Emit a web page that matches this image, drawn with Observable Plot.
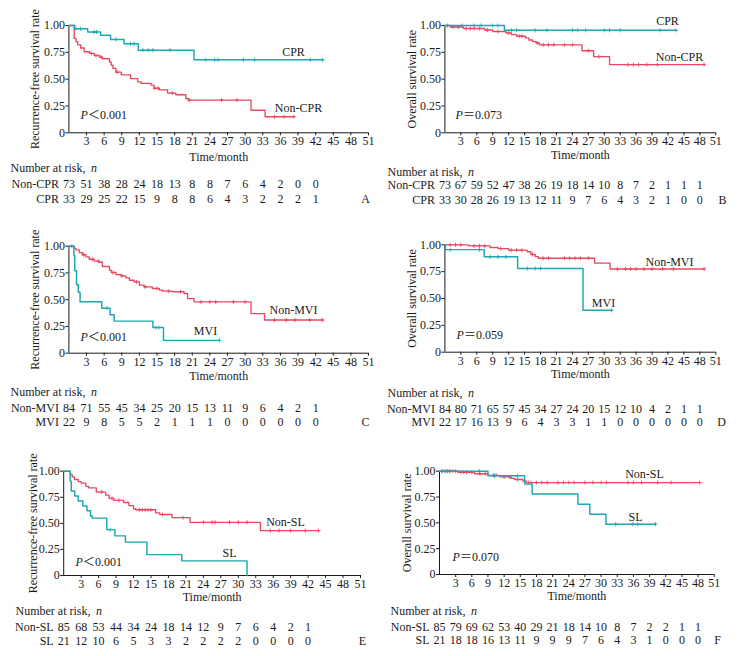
<!DOCTYPE html>
<html>
<head>
<meta charset="utf-8">
<script src="https://cdn.jsdelivr.net/npm/d3@7"></script>
<script src="https://cdn.jsdelivr.net/npm/@observablehq/plot@0.6"></script>
<style>
  html, body { margin: 0; padding: 0; background: #fff; }
  #root { position: relative; width: 745px; height: 656px; overflow: hidden; }
  #root svg { position: absolute; overflow: visible; }
</style>
</head>
<body>
<div id="root"></div>
<script>
// ---------- shared ticks ----------
const xTicks = [3, 6, 9, 12, 15, 18, 21, 24, 27, 30, 33, 36, 39, 42, 45, 48, 51];
const yTicks = [0, 0.25, 0.5, 0.75, 1];
const riskTimes = [0, 3, 6, 9, 12, 15, 18, 21, 24, 27, 30, 33, 36, 39, 42, 45, 48];

// ---------- Panel A: RFS, CPR vs Non-CPR ----------
const aNonT = [0, 0.9, 1.2, 1.5, 2.0, 2.6, 3.5, 4.3, 5.2, 5.7, 6.9, 7.2, 7.5, 8.0, 8.9, 10.5, 11.7, 12.3, 14.0, 14.5, 15.4, 16.8, 18.2, 19.9, 20.3, 31.0, 33.4];
const aNonS = [1, 0.88, 0.85, 0.82, 0.79, 0.755, 0.74, 0.72, 0.705, 0.69, 0.66, 0.63, 0.60, 0.565, 0.54, 0.505, 0.475, 0.46, 0.445, 0.415, 0.40, 0.37, 0.355, 0.32, 0.305, 0.21, 0.15];
const aNonEnd = 38.3;
const aNonCens = [3.8, 4.6, 5.5, 8.2, 14.6, 15.2, 17.6, 20.5, 26.0, 28.6, 35.0, 36.6, 38.3];
const aCprT = [0, 1.0, 3.2, 5.4, 7.1, 9.4, 11.8, 21.3];
const aCprS = [1, 0.97, 0.94, 0.91, 0.87, 0.83, 0.77, 0.68];
const aCprEnd = 43.2;
const aCprCens = [1.2, 2.0, 4.3, 4.7, 8.0, 10.5, 11.1, 12.6, 13.5, 14.3, 17.2, 23.3, 24.8, 25.4, 29.7, 31.6, 41.1, 43.2];
const aRiskNon = [73, 51, 38, 28, 24, 18, 13, 8, 8, 7, 6, 4, 2, 0, 0];
const aRiskCpr = [33, 29, 25, 22, 15, 9, 8, 8, 6, 4, 3, 2, 2, 2, 1];

// ---------- Panel B: OS, CPR vs Non-CPR ----------
const bNonT = [0, 1.0, 3.5, 7.5, 9.0, 11.5, 12.5, 13.5, 15.2, 15.8, 16.5, 17.2, 17.8, 25.8, 28.0, 31.0];
const bNonS = [1, 0.986, 0.972, 0.958, 0.944, 0.93, 0.915, 0.9, 0.885, 0.865, 0.85, 0.835, 0.82, 0.765, 0.71, 0.635];
const bNonEnd = 48.8;
const bNonCens = [0.5, 1.5, 2.5, 4.0, 4.8, 5.5, 6.5, 8.0, 10.0, 12.0, 14.0, 14.5, 17.5, 18.5, 19.5, 20.5, 22.5, 24.0, 27.0, 29.0, 34.5, 35.5, 36.5, 38.0, 40.0, 48.8];
const bCprT = [0, 11.2];
const bCprS = [1, 0.955];
const bCprEnd = 43.5;
const bCprCens = [3.2, 5.5, 6.8, 9.0, 10.0, 12.5, 13.5, 17.0, 19.2, 24.0, 25.0, 26.5, 30.0, 31.0, 33.0, 40.5, 43.5];
const bRiskNon = [73, 67, 59, 52, 47, 38, 26, 19, 18, 14, 10, 8, 7, 2, 1, 1, 1];
const bRiskCpr = [33, 30, 28, 26, 19, 13, 12, 11, 9, 7, 6, 4, 3, 2, 1, 0, 0];

// ---------- Panel C: RFS, MVI vs Non-MVI ----------
const cNonT = [0, 0.9, 1.2, 1.75, 2.3, 2.9, 3.45, 4.3, 5.15, 5.7, 6.9, 7.2, 8.0, 8.9, 9.7, 10.3, 11.1, 12.0, 12.8, 14.2, 15.4, 15.9, 17.7, 19.6, 20.2, 21.3, 31.0, 33.3];
const cNonS = [1, 0.98, 0.965, 0.94, 0.92, 0.90, 0.878, 0.86, 0.85, 0.81, 0.776, 0.754, 0.735, 0.723, 0.704, 0.682, 0.667, 0.636, 0.62, 0.605, 0.589, 0.58, 0.574, 0.558, 0.51, 0.48, 0.37, 0.31];
const cNonEnd = 43.2;
const cNonCens = [2.5, 4.0, 5.0, 7.5, 9.0, 11.5, 13.0, 15.0, 17.0, 19.0, 22.5, 24.0, 25.0, 28.0, 30.0, 35.0, 37.0, 38.5, 41.0, 43.2];
const cMviT = [0, 0.85, 1.0, 1.3, 1.6, 1.9, 5.6, 7.0, 7.7, 14.3, 16.1];
const cMviS = [1, 0.91, 0.77, 0.64, 0.57, 0.48, 0.42, 0.36, 0.30, 0.24, 0.12];
const cMviEnd = 25.6;
const cMviCens = [0.5, 6.5, 14.8, 15.3, 25.6];
const cRiskNon = [84, 71, 55, 45, 34, 25, 20, 15, 13, 11, 9, 6, 4, 2, 1];
const cRiskMvi = [22, 9, 8, 5, 5, 2, 1, 1, 1, 0, 0, 0, 0, 0, 0];

// ---------- Panel D: OS, MVI vs Non-MVI ----------
const dNonT = [0, 4.5, 8.5, 10.0, 12.0, 15.5, 16.2, 17.0, 17.6, 28.2, 31.1];
const dNonS = [1, 0.99, 0.975, 0.965, 0.95, 0.935, 0.91, 0.89, 0.875, 0.83, 0.775];
const dNonEnd = 48.8;
const dNonCens = [1.0, 2.0, 3.0, 5.5, 6.5, 7.5, 10.5, 12.5, 13.5, 14.5, 16.5, 18.5, 19.5, 22.5, 23.5, 24.5, 25.5, 27.0, 32.5, 34.0, 35.0, 36.0, 37.5, 39.0, 41.0, 43.0, 48.8];
const dMviT = [0, 0.1, 7.4, 13.7, 26.0];
const dMviS = [1, 0.955, 0.888, 0.78, 0.39];
const dMviEnd = 31.4;
const dMviCens = [1.0, 6.5, 8.5, 10.0, 11.5, 15.5, 17.0, 18.0, 31.4];
const dRiskNon = [84, 80, 71, 65, 57, 45, 34, 27, 24, 20, 15, 12, 10, 4, 2, 1, 1];
const dRiskMvi = [22, 17, 16, 13, 9, 6, 4, 3, 3, 1, 1, 0, 0, 0, 0, 0, 0];

// ---------- Panel E: RFS, SL vs Non-SL ----------
const eNonT = [0, 1.15, 1.45, 1.85, 2.5, 3.0, 3.8, 4.3, 5.6, 7.2, 7.8, 8.6, 10.3, 11.2, 12.0, 12.4, 15.8, 16.5, 18.6, 21.7, 33.8];
const eNonS = [1, 0.97, 0.945, 0.92, 0.9, 0.885, 0.855, 0.84, 0.80, 0.77, 0.74, 0.72, 0.70, 0.67, 0.64, 0.63, 0.60, 0.585, 0.555, 0.51, 0.43];
const eNonEnd = 43.8;
const eNonCens = [6.5, 8.3, 9.5, 13.0, 13.5, 14.0, 14.5, 15.0, 17.0, 20.5, 24.0, 25.5, 26.0, 28.5, 30.0, 31.5, 35.5, 37.0, 39.0, 41.5, 43.8];
const eSlT = [0, 1.1, 1.3, 1.9, 2.5, 3.3, 4.0, 4.6, 4.9, 7.4, 8.8, 10.6, 14.3, 20.3, 31.5];
const eSlS = [1, 0.905, 0.81, 0.762, 0.714, 0.667, 0.62, 0.57, 0.55, 0.44, 0.38, 0.32, 0.20, 0.14, 0];
const eSlEnd = 31.5;
const eSlCens = [8.0];
const eRiskNon = [85, 68, 53, 44, 34, 24, 18, 14, 12, 9, 7, 6, 4, 2, 1];
const eRiskSl = [21, 12, 10, 6, 5, 3, 3, 2, 2, 2, 2, 0, 0, 0, 0];

// ---------- Panel F: OS, SL vs Non-SL ----------
const fNonT = [0, 3.4, 6.5, 9.0, 11.2, 13.3, 14.0, 15.5, 16.1];
const fNonS = [1, 0.99, 0.975, 0.96, 0.945, 0.93, 0.92, 0.905, 0.89];
const fNonEnd = 48.3;
const fNonCens = [0.5, 1.0, 1.5, 2.0, 2.5, 3.0, 4.0, 4.5, 5.0, 6.0, 7.5, 8.5, 10.0, 10.5, 12.0, 13.0, 14.5, 16.5, 17.0, 18.0, 19.0, 20.0, 22.0, 23.0, 24.0, 25.0, 27.0, 28.5, 30.0, 31.0, 35.0, 36.0, 37.5, 40.5, 43.0, 48.3];
const fSlT = [0, 9.0, 15.8, 17.2, 25.7, 27.9, 30.9];
const fSlS = [1, 0.955, 0.875, 0.78, 0.68, 0.584, 0.487];
const fSlEnd = 40.1;
const fSlCens = [0.5, 1.2, 1.8, 7.4, 10.2, 14.5, 32.7, 35.9, 36.8, 40.1];
const fRiskNon = [85, 79, 69, 62, 53, 40, 29, 21, 18, 14, 10, 8, 7, 2, 2, 1, 1];
const fRiskSl = [21, 18, 18, 16, 13, 11, 9, 9, 9, 7, 6, 4, 3, 1, 0, 0, 0];

// ---------- helpers ----------
const RED = "#ea4862";
const TEAL = "#1ea6b3";
const INK = "#1a1a1a";
const FONT = "'Liberation Serif', 'Times New Roman', 'Noto Sans CJK SC', serif";

function stepData(T, S, end) {
  const d = T.map((t, i) => ({t, s: S[i]}));
  d.push({t: end, s: S[S.length - 1]});
  return d;
}
function censData(T, S, C) {
  return C.map(t => {
    let v = S[0];
    for (let i = 0; i < T.length; i++) if (T[i] <= t) v = S[i];
    return {t, s: v};
  });
}
function riskData(vals) {
  return vals.map((n, i) => ({t: riskTimes[i], n}));
}

function label(txt, anchor, dx, dy, extra = {}) {
  return Plot.text([txt], {frameAnchor: anchor, dx, dy, textAnchor: "middle", lineAnchor: "middle", fontSize: 12, fill: INK, ...extra});
}

function panel(cfg) {
  const {L, W, T, H, x0, x51, top, bottom} = cfg.box;
  const g = cfg.geo;
  const svg = Plot.plot({
    width: W, height: H,
    marginLeft: x0 - L, marginRight: L + W - x51,
    marginTop: top - T, marginBottom: T + H - bottom,
    style: {fontFamily: FONT, fontSize: "12px", background: "transparent", color: INK, overflow: "visible"},
    x: {domain: [0, 51]},
    y: {domain: [0, 1]},
    marks: [
      Plot.axisX({ticks: xTicks, tickSize: 3, tickPadding: 1, label: null, fontSize: 12}),
      Plot.axisY({ticks: yTicks, tickSize: 3, tickPadding: 1, label: null, fontSize: 12,
        tickFormat: d => d === 0 ? "0" : d.toFixed(2)}),
      Plot.ruleY([0], {stroke: INK, strokeWidth: 1}),
      Plot.ruleX([0], {stroke: INK, strokeWidth: 1}),
      // curves
      Plot.line(stepData(cfg.rT, cfg.rS, cfg.rEnd), {x: "t", y: "s", curve: "step-after", stroke: RED, strokeWidth: 1.35}),
      Plot.dot(censData(cfg.rT, cfg.rS, cfg.rC), {x: "t", y: "s", symbol: "plus", r: 1.4, stroke: RED, strokeWidth: 0.9}),
      Plot.line(stepData(cfg.tT, cfg.tS, cfg.tEnd), {x: "t", y: "s", curve: "step-after", stroke: TEAL, strokeWidth: 1.45}),
      Plot.dot(censData(cfg.tT, cfg.tS, cfg.tC), {x: "t", y: "s", symbol: "plus", r: 1.4, stroke: TEAL, strokeWidth: 0.9}),
      // axis titles
      label(cfg.yLabel, "left", g.yLabDx, 0, {rotate: -90}),
      label("Time/month", "bottom", 0, g.xLabDy),
      // group labels
      label(cfg.rName, "top-left", g.rLab[0], g.rLab[1]),
      label(cfg.tName, "top-left", g.tLab[0], g.tLab[1]),
      // p-value
      label("P", "top-left", g.p[0], g.p[1], {textAnchor: "start", fontStyle: "italic"}),
      label(cfg.pText, "top-left", g.p[0] + 7.5, g.p[1], {textAnchor: "start"}),
      // risk table
      label("Number at risk, ", "bottom-left", g.nar[0], g.nar[1], {textAnchor: "start"}),
      label("n", "bottom-left", g.nar[0] + 80.5, g.nar[1], {textAnchor: "start", fontStyle: "italic"}),
      label(cfg.rName, "bottom-left", -10, g.rows[0], {textAnchor: "end"}),
      label(cfg.tName, "bottom-left", -10, g.rows[1], {textAnchor: "end"}),
      Plot.text(riskData(cfg.rRisk), {x: "t", text: "n", frameAnchor: "bottom", dy: g.rows[0], lineAnchor: "middle", textAnchor: "middle", fontSize: 12, fill: INK}),
      Plot.text(riskData(cfg.tRisk), {x: "t", text: "n", frameAnchor: "bottom", dy: g.rows[1], lineAnchor: "middle", textAnchor: "middle", fontSize: 12, fill: INK}),
      label(cfg.letter, "bottom-right", g.letterDx, g.rows[1])
    ]
  });
  svg.style.left = L + "px";
  svg.style.top = T + "px";
  document.getElementById("root").appendChild(svg);
}

const RFS = "Recurrence-free survival rate";
const OS = "Overall survival rate";

panel({
  box: {L: 0, W: 372, T: 0, H: 205, x0: 68.4, x51: 368, top: 25, bottom: 132.3},
  geo: {yLabDx: -34, xLabDy: 24, rLab: [229.6, 83], tLab: [224.6, 27], p: [11.6, 90], nar: [-58.4, 35.7], rows: [51.7, 66.7], letterDx: -3},
  yLabel: RFS, rName: "Non-CPR", tName: "CPR", pText: "＜0.001", letter: "A",
  rT: aNonT, rS: aNonS, rEnd: aNonEnd, rC: aNonCens, tT: aCprT, tS: aCprS, tEnd: aCprEnd, tC: aCprCens,
  rRisk: aRiskNon, tRisk: aRiskCpr
});
panel({
  box: {L: 372, W: 373, T: 0, H: 205, x0: 444.4, x51: 715.3, top: 25, bottom: 132.3},
  geo: {yLabDx: -32.4, xLabDy: 22.5, rLab: [234.6, 32], tLab: [222.6, -4], p: [10.6, 90], nar: [-57.4, 39.4], rows: [52.7, 67.7], letterDx: 6.7},
  yLabel: OS, rName: "Non-CPR", tName: "CPR", pText: "＝0.073", letter: "B",
  rT: bNonT, rS: bNonS, rEnd: bNonEnd, rC: bNonCens, tT: bCprT, tS: bCprS, tEnd: bCprEnd, tC: bCprCens,
  rRisk: bRiskNon, tRisk: bRiskCpr
});
panel({
  box: {L: 0, W: 372, T: 205, H: 225, x0: 68.4, x51: 368, top: 245.7, bottom: 352.7},
  geo: {yLabDx: -33.4, xLabDy: 22.5, rLab: [224.6, 64.3], tLab: [136.6, 85.3], p: [11.6, 91.3], nar: [-58.4, 39], rows: [54.6, 69.3], letterDx: -3},
  yLabel: RFS, rName: "Non-MVI", tName: "MVI", pText: "＜0.001", letter: "C",
  rT: cNonT, rS: cNonS, rEnd: cNonEnd, rC: cNonCens, tT: cMviT, tS: cMviS, tEnd: cMviEnd, tC: cMviCens,
  rRisk: cRiskNon, tRisk: cRiskMvi
});
panel({
  box: {L: 372, W: 373, T: 205, H: 225, x0: 444.4, x51: 715.3, top: 244.3, bottom: 351.7},
  geo: {yLabDx: -32.4, xLabDy: 22, rLab: [224.6, 17.7], tLab: [158.6, 58.7], p: [11.6, 90.7], nar: [-57.4, 40.6], rows: [56.6, 70.3], letterDx: 5.7},
  yLabel: OS, rName: "Non-MVI", tName: "MVI", pText: "＝0.059", letter: "D",
  rT: dNonT, rS: dNonS, rEnd: dNonEnd, rC: dNonCens, tT: dMviT, tS: dMviS, tEnd: dMviEnd, tC: dMviCens,
  rRisk: dRiskNon, tRisk: dRiskMvi
});
panel({
  box: {L: 0, W: 372, T: 430, H: 226, x0: 63.2, x51: 360, top: 470.7, bottom: 575},
  geo: {yLabDx: -30.2, xLabDy: 22, rLab: [221.8, 51.3], tLab: [165.8, 82.3], p: [11.8, 91.3], nar: [-48.2, 35.7], rows: [51.7, 65.7], letterDx: 2},
  yLabel: RFS, rName: "Non-SL", tName: "SL", pText: "＜0.001", letter: "E",
  rT: eNonT, rS: eNonS, rEnd: eNonEnd, rC: eNonCens, tT: eSlT, tS: eSlS, tEnd: eSlEnd, tC: eSlCens,
  rRisk: eRiskNon, tRisk: eRiskSl
});
panel({
  box: {L: 372, W: 373, T: 430, H: 226, x0: 439, x51: 713.7, top: 470.7, bottom: 574},
  geo: {yLabDx: -32, xLabDy: 22, rLab: [205, 3.3], tLab: [196, 46.3], p: [13, 86.3], nar: [-49, 36.7], rows: [52.7, 66], letterDx: 3.3},
  yLabel: OS, rName: "Non-SL", tName: "SL", pText: "＝0.070", letter: "F",
  rT: fNonT, rS: fNonS, rEnd: fNonEnd, rC: fNonCens, tT: fSlT, tS: fSlS, tEnd: fSlEnd, tC: fSlCens,
  rRisk: fRiskNon, tRisk: fRiskSl
});
</script>
</body>
</html>
